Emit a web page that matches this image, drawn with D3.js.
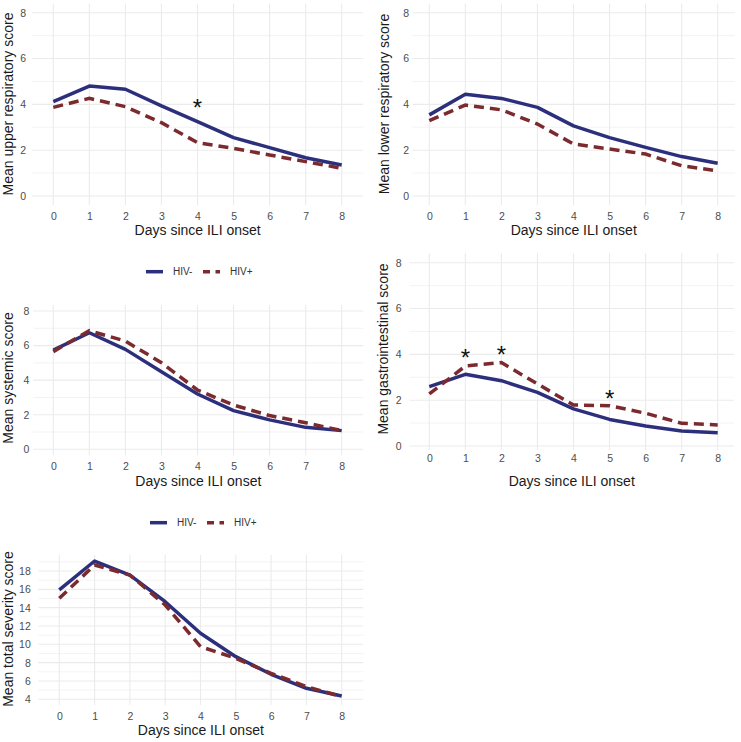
<!DOCTYPE html>
<html>
<head>
<meta charset="utf-8">
<script src="https://cdn.jsdelivr.net/npm/d3@7"></script>
<style>
  html, body { margin: 0; padding: 0; background: #ffffff; }
  svg { display: block; font-family: "Liberation Sans", Arial, Helvetica, sans-serif; }
</style>
</head>
<body>
<svg id="chart" width="741" height="742"></svg>
<script>
// ---------------- DATA ----------------
const days = [0, 1, 2, 3, 4, 5, 6, 7, 8];
const seriesNames = ["HIV-", "HIV+"];

const upperNeg = [4.12, 4.80, 4.66, 3.93, 3.25, 2.55, 2.11, 1.67, 1.35];
const upperPos = [3.87, 4.26, 3.90, 3.20, 2.33, 2.08, 1.79, 1.50, 1.21];

const lowerNeg = [3.54, 4.44, 4.26, 3.87, 3.06, 2.55, 2.12, 1.72, 1.43];
const lowerPos = [3.29, 3.97, 3.76, 3.14, 2.27, 2.05, 1.83, 1.32, 1.10];

const systemicNeg = [5.74, 6.74, 5.78, 4.49, 3.20, 2.24, 1.70, 1.27, 1.08];
const systemicPos = [5.65, 6.86, 6.26, 5.01, 3.43, 2.56, 1.95, 1.54, 1.08];

const giNeg = [2.59, 3.13, 2.85, 2.34, 1.62, 1.16, 0.87, 0.65, 0.58];
const giPos = [2.27, 3.49, 3.64, 2.71, 1.79, 1.76, 1.43, 0.99, 0.92];

const totalNeg = [15.93, 19.09, 17.56, 14.65, 11.20, 8.65, 6.73, 5.20, 4.36];
const totalPos = [15.02, 18.65, 17.56, 14.29, 9.75, 8.47, 6.84, 5.38, 4.29];

const ticksScore = [0, 2, 4, 6, 8];
const minorScore = [1, 3, 5, 7];
const ticksTotal = [4, 6, 8, 10, 12, 14, 16, 18];
const minorTotal = [5, 7, 9, 11, 13, 15, 17, 19];

// significance markers: day and the height at which the asterisk sits
const sigUpperDays = [4];
const sigUpperY = [4.07];
const sigGiDays = [1, 2, 5];
const sigGiY = [4.07, 4.19, 2.27];

const yTitles = [
  "Mean upper respiratory score",
  "Mean lower respiratory score",
  "Mean systemic score",
  "Mean gastrointestinal score",
  "Mean total severity score"
];
const xTitle = "Days since ILI onset";

// ---------------- STYLE ----------------
const colNeg = "#2c2f7c";
const colPos = "#7b2a2e";
const gridCol = "#ebebeb";
const tickCol = "#4d4d4d";
const lineW = 3.5;
const dash = "10,6";

const svg = d3.select("#chart");

function panel(cfg) {
  const g = svg.append("g");
  // scales anchored on the data range (pixel anchors of the first/last break)
  const x = d3.scaleLinear().domain([0, 8]).range([cfg.x0, cfg.x8]);
  const y = d3.scaleLinear().domain(cfg.yAnchor).range(cfg.yAnchorPx);

  g.selectAll(".minor").data(cfg.minor.filter(d => y(d) >= cfg.top && y(d) <= cfg.bottom)).join("line")
    .attr("x1", cfg.left).attr("x2", cfg.right)
    .attr("y1", d => y(d)).attr("y2", d => y(d))
    .attr("stroke", gridCol).attr("stroke-width", 0.6);
  g.selectAll(".majorY").data(cfg.ticks).join("line")
    .attr("x1", cfg.left).attr("x2", cfg.right)
    .attr("y1", d => y(d)).attr("y2", d => y(d))
    .attr("stroke", gridCol).attr("stroke-width", 1.1);
  g.selectAll(".majorX").data(days).join("line")
    .attr("x1", d => x(d)).attr("x2", d => x(d))
    .attr("y1", cfg.top).attr("y2", cfg.bottom)
    .attr("stroke", gridCol).attr("stroke-width", 1.1);

  const ax = g.append("g").attr("transform", `translate(0,${cfg.bottom})`)
    .call(d3.axisBottom(x).tickValues(days).tickFormat(d3.format("d")).tickSize(0).tickPadding(cfg.xpad));
  const ay = g.append("g").attr("transform", `translate(${cfg.left},0)`)
    .call(d3.axisLeft(y).tickValues(cfg.ticks).tickFormat(d3.format("d")).tickSize(0).tickPadding(cfg.ypad));
  [ax, ay].forEach(a => {
    a.select(".domain").remove();
    a.selectAll("text").attr("fill", tickCol).style("font-size", "10.5px")
      .style("font-family", '"Liberation Sans", Arial, sans-serif');
  });

  const line = d3.line().x((d, i) => x(days[i])).y(d => y(d));
  g.append("path").datum(cfg.neg).attr("d", line)
    .attr("fill", "none").attr("stroke", colNeg).attr("stroke-width", lineW)
    .attr("stroke-linejoin", "round");
  g.append("path").datum(cfg.pos).attr("d", line)
    .attr("fill", "none").attr("stroke", colPos).attr("stroke-width", lineW)
    .attr("stroke-dasharray", dash);

  if (cfg.sigDays) {
    g.selectAll(".sig").data(cfg.sigDays).join("text")
      .attr("x", d => x(d))
      .attr("y", (d, i) => y(cfg.sigY[i]) + 13)
      .attr("text-anchor", "middle")
      .style("font-size", "24px").attr("fill", "#111")
      .text("*");
  }

  g.append("text")
    .attr("x", (cfg.left + cfg.right) / 2).attr("y", cfg.xTitleY)
    .attr("text-anchor", "middle").style("font-size", "14px").attr("fill", "#1a1a1a")
    .text(xTitle);
  g.append("text")
    .attr("transform", `translate(${cfg.yTitleX},${cfg.yTitleCY}) rotate(-90)`)
    .attr("text-anchor", "middle").style("font-size", "14px").attr("fill", "#1a1a1a")
    .text(cfg.yTitle);
}

function legend(cx, cy) {
  const g = svg.append("g").attr("transform", `translate(${cx},${cy})`);
  const items = [
    { name: seriesNames[0], col: colNeg, dash: null, x0: -51.5 },
    { name: seriesNames[1], col: colPos, dash: "7,5.5", x0: 5.5 }
  ];
  items.forEach(it => {
    g.append("line").attr("x1", it.x0).attr("x2", it.x0 + 17)
      .attr("y1", 0).attr("y2", 0)
      .attr("stroke", it.col).attr("stroke-width", lineW)
      .attr("stroke-dasharray", it.dash);
    g.append("text").attr("x", it.x0 + 27).attr("y", 3.6)
      .style("font-size", "10px").attr("fill", "#333")
      .text(it.name);
  });
}

panel({ x0: 53.3, x8: 341.7, left: 32, right: 363.3, top: 3.5, bottom: 205,
  yAnchor: [0, 8], yAnchorPx: [196, 12.7],
  ticks: ticksScore, minor: minorScore, neg: upperNeg, pos: upperPos, xpad: 7.5, ypad: 6,
  sigDays: sigUpperDays, sigY: sigUpperY,
  xTitleY: 235, yTitleX: 13, yTitleCY: 104, yTitle: yTitles[0] });

panel({ x0: 429.3, x8: 717.7, left: 412.5, right: 735, top: 3.5, bottom: 205,
  yAnchor: [0, 8], yAnchorPx: [196, 12.7],
  ticks: ticksScore, minor: minorScore, neg: lowerNeg, pos: lowerPos, xpad: 7.5, ypad: 3.5,
  xTitleY: 235, yTitleX: 389, yTitleCY: 104, yTitle: yTitles[1] });

panel({ x0: 53.3, x8: 341.7, left: 33.3, right: 363.3, top: 305, bottom: 455.5,
  yAnchor: [0, 8], yAnchorPx: [449.3, 311],
  ticks: ticksScore, minor: minorScore, neg: systemicNeg, pos: systemicPos, xpad: 7, ypad: 4,
  xTitleY: 485.5, yTitleX: 13, yTitleCY: 378, yTitle: yTitles[2] });

panel({ x0: 429.3, x8: 717.7, left: 409.5, right: 734, top: 253, bottom: 450,
  yAnchor: [0, 8], yAnchorPx: [446, 262.7],
  ticks: ticksScore, minor: minorScore, neg: giNeg, pos: giPos, xpad: 4.3, ypad: 8,
  sigDays: sigGiDays, sigY: sigGiY,
  xTitleY: 485.5, yTitleX: 388, yTitleCY: 349, yTitle: yTitles[3] });

panel({ x0: 59.3, x8: 341.7, left: 38.3, right: 363.3, top: 555, bottom: 705,
  yAnchor: [4, 18], yAnchorPx: [699.3, 571],
  ticks: ticksTotal, minor: minorTotal, neg: totalNeg, pos: totalPos, xpad: 7.7, ypad: 7.5,
  xTitleY: 735, yTitleX: 13, yTitleCY: 629, yTitle: yTitles[4] });

legend(197.5, 271.7);
legend(201.5, 522.7);
</script>
</body>
</html>
